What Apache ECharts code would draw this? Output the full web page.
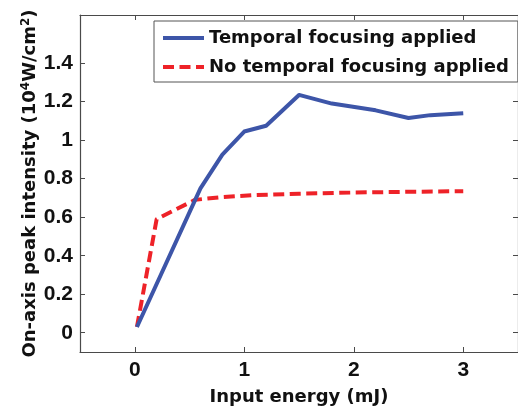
<!DOCTYPE html>
<html>
<head>
<meta charset="utf-8">
<script src="https://cdn.jsdelivr.net/npm/echarts@6/dist/echarts.min.js"></script>
<style>
  html, body { margin: 0; padding: 0; background: #fff; }
  #chart { width: 518px; height: 411px; }
</style>
</head>
<body>
<div id="chart"></div>
<script>
// Input energy (mJ) and on-axis peak intensity (10^4 W/cm^2)
const energyTF = [0.02, 0.6, 0.8, 1.0, 1.2, 1.5, 1.8, 2.2, 2.5, 2.7, 3.0];
const intensityTF = [0.03, 0.75, 0.925, 1.045, 1.075, 1.235, 1.19, 1.155, 1.115, 1.13, 1.14];

const energyNoTF = [0.02, 0.2, 0.55, 0.8, 1.1, 1.5, 2.0, 2.5, 3.0];
const intensityNoTF = [0.03, 0.59, 0.69, 0.705, 0.715, 0.722, 0.728, 0.732, 0.735];

const xTicks = [0, 1, 2, 3];
const yTicks = [0, 0.2, 0.4, 0.6, 0.8, 1, 1.2, 1.4];

const seriesNames = ['Temporal focusing applied', 'No temporal focusing applied'];

const toPairs = (xs, ys) => xs.map((x, i) => [x, ys[i]]);

const axisColor = '#4a4a4a';
const tickFont = { fontFamily: 'Liberation Sans, Arial, sans-serif', fontWeight: 'bold', color: '#111' };
const titleFont = { fontFamily: 'DejaVu Sans, sans-serif', fontWeight: 'bold', color: '#111' };

const chart = echarts.init(document.getElementById('chart'), null, { renderer: 'canvas' });

const baseX = {
  type: 'value', min: -0.5, max: 3.5,
  axisLine: { show: true, onZero: false, lineStyle: { color: axisColor, width: 1.2 } },
  axisTick: { show: true, inside: true, length: 5, customValues: xTicks, lineStyle: { color: axisColor } },
  splitLine: { show: false }
};
const baseY = {
  type: 'value', min: -0.1, max: 1.65,
  axisLine: { show: true, onZero: false, lineStyle: { color: axisColor, width: 1.2 } },
  axisTick: { show: true, inside: true, length: 5, customValues: yTicks, lineStyle: { color: axisColor } },
  splitLine: { show: false }
};

chart.setOption({
  animation: false,
  backgroundColor: '#fff',
  grid: { left: 80, top: 15, right: -2, bottom: 58 },
  legend: {
    data: seriesNames,
    orient: 'vertical',
    left: 154, top: 21,
    padding: [8, 9, 6, 7],
    itemWidth: 41, itemHeight: 14, itemGap: 11,
    itemStyle: { opacity: 0 },
    lineStyle: { width: 4 },
    backgroundColor: '#fff',
    borderColor: '#555', borderWidth: 1,
    textStyle: Object.assign({ fontSize: 18 }, titleFont)
  },
  xAxis: [
    Object.assign({}, baseX, {
      position: 'bottom',
      axisLabel: Object.assign({ show: true, customValues: xTicks, fontSize: 21, margin: 8 }, tickFont),
      name: 'Input energy (mJ)', nameLocation: 'middle', nameGap: 36, nameMoveOverlap: false,
      nameTextStyle: Object.assign({ fontSize: 18 }, titleFont)
    }),
    Object.assign({}, baseX, { position: 'top', axisLabel: { show: false } })
  ],
  yAxis: [
    Object.assign({}, baseY, {
      position: 'left',
      axisLabel: Object.assign({
        show: true, customValues: yTicks, fontSize: 21, margin: 7,
        formatter: v => String(+v.toFixed(1))
      }, tickFont),
      name: 'On-axis peak intensity (10{sup|4}W/cm{sup|2})',
      nameLocation: 'middle', nameGap: 40, nameRotate: 90, nameMoveOverlap: false,
      nameTextStyle: Object.assign({
        fontSize: 18,
        rich: {
          sup: Object.assign({ fontSize: 12, verticalAlign: 'top', padding: [0, 0, 8, 0] }, titleFont)
        }
      }, titleFont)
    }),
    Object.assign({}, baseY, { position: 'right', axisLabel: { show: false } })
  ],
  series: [
    {
      name: seriesNames[0], type: 'line', symbol: 'none',
      data: toPairs(energyTF, intensityTF),
      lineStyle: { color: '#3d55a8', width: 4, join: 'round' },
      itemStyle: { color: '#3d55a8' },
      z: 3
    },
    {
      name: seriesNames[1], type: 'line', symbol: 'none',
      data: toPairs(energyNoTF, intensityNoTF),
      lineStyle: { color: '#ee2228', width: 4, type: [11, 5.5] },
      itemStyle: { color: '#ee2228' },
      z: 2
    }
  ]
});
</script>
</body>
</html>
